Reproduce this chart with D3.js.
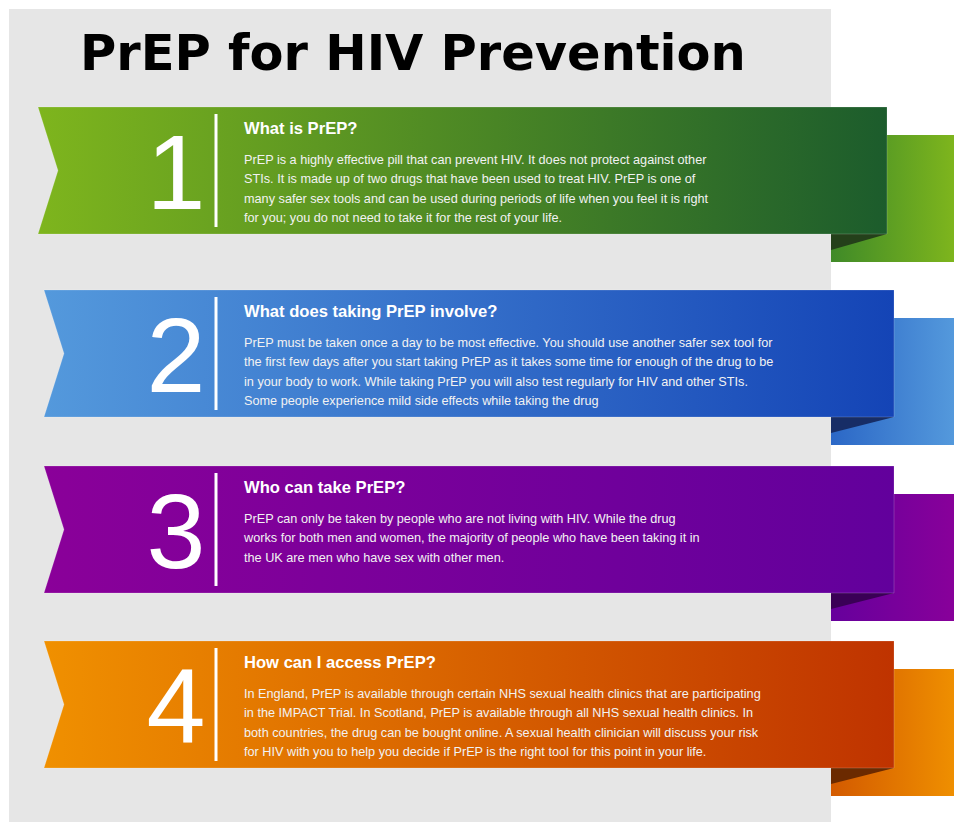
<!DOCTYPE html>
<html>
<head>
<meta charset="utf-8">
<script src="https://cdn.jsdelivr.net/npm/d3@7"></script>
<style>
  body { margin: 0; background: #ffffff; }
  svg { display: block; }
</style>
</head>
<body>
<div id="infographic"></div>
<script>
// content
var title = "PrEP for HIV Prevention";
var numbers = ["1", "2", "3", "4"];
var headings = [
	"What is PrEP?",
	"What does taking PrEP involve?",
	"Who can take PrEP?",
	"How can I access PrEP?"
];
var bodyLines = [
	["PrEP is a highly effective pill that can prevent HIV. It does not protect against other",
	 "STIs. It is made up of two drugs that have been used to treat HIV. PrEP is one of",
	 "many safer sex tools and can be used during periods of life when you feel it is right",
	 "for you; you do not need to take it for the rest of your life."],
	["PrEP must be taken once a day to be most effective. You should use another safer sex tool for",
	 "the first few days after you start taking PrEP as it takes some time for enough of the drug to be",
	 "in your body to work. While taking PrEP you will also test regularly for HIV and other STIs.",
	 "Some people experience mild side effects while taking the drug"],
	["PrEP can only be taken by people who are not living with HIV. While the drug",
	 "works for both men and women, the majority of people who have been taking it in",
	 "the UK are men who have sex with other men."],
	["In England, PrEP is available through certain NHS sexual health clinics that are participating",
	 "in the IMPACT Trial. In Scotland, PrEP is available through all NHS sexual health clinics. In",
	 "both countries, the drug can be bought online. A sexual health clinician will discuss your risk",
	 "for HIV with you to help you decide if PrEP is the right tool for this point in your life."]
];
var frontColors = [["#7eb51d", "#1c5c2c"], ["#5499dc", "#1444b6"], ["#8a0099", "#62009c"], ["#f09000", "#bf3300"]];
var backColors = [["#3f8a28", "#7eb51d"], ["#2b67c6", "#5499dc"], ["#66009c", "#88009a"], ["#d35a00", "#ef8f00"]];
var foldColors = ["#24401a", "#172d66", "#3a0056", "#6b2a00"];

// svg params
var svgWidth = 954;
var svgHeight = 822;

var svg = d3.select("#infographic")
	.append("svg")
	.attr("width", svgWidth)
	.attr("height", svgHeight);

var defs = svg.append("defs");

// layout scales
var rowTop = d3.scaleOrdinal().domain(numbers).range([107, 290, 466, 641]);
var rowLeft = d3.scaleOrdinal().domain(numbers).range([38, 44, 44, 44]);
var rowRight = d3.scaleOrdinal().domain(numbers).range([887, 894, 894, 894]);
var ribbonH = 127;
var panelRight = 831;
var backDrop = 28;
var foldDepth = 16;

// gray panel
svg.append("rect")
	.attr("x", 9)
	.attr("y", 9)
	.attr("width", panelRight - 9)
	.attr("height", svgHeight - 9)
	.attr("fill", "#e6e6e6");

// title
svg.append("text")
	.attr("x", 80)
	.attr("y", 70)
	.attr("font-family", "'DejaVu Sans', Verdana, sans-serif")
	.attr("font-weight", "bold")
	.attr("font-size", 49.5)
	.attr("fill", "#000")
	.text(title);

var rows = numbers.map(function(n, i) {
	return {n: n, i: i, heading: headings[i], lines: bodyLines[i]};
});

// gradients
rows.forEach(function(d) {
	[["front", frontColors[d.i]], ["back", backColors[d.i]]].forEach(function(g) {
		var grad = defs.append("linearGradient")
			.attr("id", g[0] + d.i)
			.attr("x1", "0%").attr("x2", "100%")
			.attr("y1", "0%").attr("y2", "0%");
		grad.append("stop").attr("offset", "0%").attr("stop-color", g[1][0]);
		grad.append("stop").attr("offset", "100%").attr("stop-color", g[1][1]);
	});
});

var rowGroup = svg.selectAll(".row")
	.data(rows)
	.enter()
	.append("g")
	.attr("class", "row");

// back ribbon
rowGroup.append("rect")
	.attr("x", panelRight)
	.attr("y", d => rowTop(d.n) + backDrop)
	.attr("width", svgWidth - panelRight)
	.attr("height", ribbonH)
	.attr("fill", d => `url(#back${d.i})`);

// fold shadow
rowGroup.append("path")
	.attr("d", function(d) {
		var b = rowTop(d.n) + ribbonH;
		return `M${panelRight},${b} L${rowRight(d.n)},${b} L${panelRight},${b + foldDepth} Z`;
	})
	.attr("fill", (d, i) => foldColors[i]);

// front ribbon with notch
rowGroup.append("path")
	.attr("d", function(d) {
		var t = rowTop(d.n), b = t + ribbonH, l = rowLeft(d.n), r = rowRight(d.n);
		return `M${l},${t} L${r},${t} L${r},${b} L${l},${b} L${l + 20},${t + ribbonH / 2} Z`;
	})
	.attr("fill", d => `url(#front${d.i})`)
	.attr("stroke", "rgba(255,255,255,0.18)")
	.attr("stroke-width", 1);

// divider
rowGroup.append("line")
	.attr("x1", 216).attr("x2", 216)
	.attr("y1", d => rowTop(d.n) + 7)
	.attr("y2", d => rowTop(d.n) + 120)
	.attr("stroke", "#fff")
	.attr("stroke-width", 3);

// big number
rowGroup.append("text")
	.attr("x", 176)
	.attr("y", d => rowTop(d.n) + 102)
	.attr("text-anchor", "middle")
	.attr("font-family", "'Liberation Sans', Arial, sans-serif")
	.attr("font-size", 106)
	.attr("fill", "#fff")
	.text(d => d.n);

// heading
rowGroup.append("text")
	.attr("x", 244)
	.attr("y", d => rowTop(d.n) + 27)
	.attr("font-family", "'Liberation Sans', Arial, sans-serif")
	.attr("font-weight", "bold")
	.attr("font-size", 16.6)
	.attr("fill", "#fff")
	.text(d => d.heading);

// body text
rowGroup.each(function(d) {
	d3.select(this).selectAll(".body")
		.data(d.lines)
		.enter()
		.append("text")
		.attr("class", "body")
		.attr("x", 244)
		.attr("y", (line, j) => rowTop(d.n) + 57 + j * 19.4)
		.attr("font-family", "'Liberation Sans', Arial, sans-serif")
		.attr("font-size", 12.7)
		.attr("fill", "#f2f2f2")
		.text(line => line);
});
</script>
</body>
</html>
